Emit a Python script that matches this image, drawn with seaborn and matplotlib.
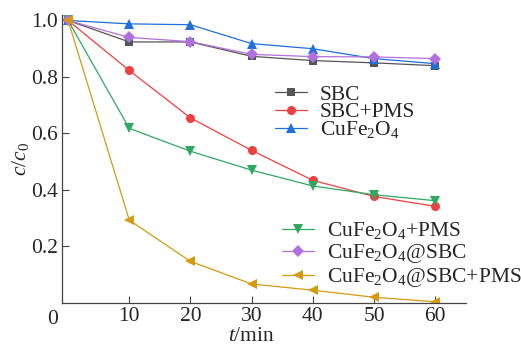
import matplotlib
matplotlib.use("Agg")
import matplotlib.pyplot as plt
import seaborn as sns
import pandas as pd

t = [0, 10, 20, 30, 40, 50, 60]
sbc = [1.0, 0.924, 0.924, 0.873, 0.858, 0.850, 0.840]
sbc_pms = [1.0, 0.823, 0.655, 0.540, 0.434, 0.377, 0.342]
cufe = [1.0, 0.988, 0.985, 0.918, 0.900, 0.865, 0.847]
cufe_pms = [1.0, 0.618, 0.537, 0.470, 0.414, 0.383, 0.362]
cufe_sbc = [1.0, 0.940, 0.925, 0.880, 0.872, 0.871, 0.865]
cufe_sbc_pms = [1.0, 0.293, 0.147, 0.067, 0.045, 0.020, 0.004]

labels = ["SBC", "SBC+PMS", r"CuFe$_2$O$_4$", r"CuFe$_2$O$_4$+PMS",
          r"CuFe$_2$O$_4$@SBC", r"CuFe$_2$O$_4$@SBC+PMS"]
series = [sbc, sbc_pms, cufe, cufe_pms, cufe_sbc, cufe_sbc_pms]
markers = ["s", "o", "^", "v", "D", "<"]
colors = ["#555555", "#ee4040", "#1f6fdc", "#2fa862", "#b070dd", "#d49a10"]
msizes = [6, 6.5, 7, 7, 6, 7]

sns.set_style("ticks")
plt.rcParams["font.family"] = ["Liberation Serif", "DejaVu Serif"]
plt.rcParams["mathtext.fontset"] = "custom"
plt.rcParams["mathtext.rm"] = "Liberation Serif"
plt.rcParams["mathtext.it"] = "Liberation Serif:italic"

FS = 15.5
fig = plt.figure(figsize=(5.21, 3.45), dpi=100)
ax = fig.add_axes([0.119, 0.122, 0.775, 0.835])

for lab, ys, m, c, ms in zip(labels, series, markers, colors, msizes):
    df = pd.DataFrame({"t": t, "c": ys})
    sns.lineplot(data=df, x="t", y="c", ax=ax, color=c, marker=m,
                 markersize=ms, markeredgewidth=0, linewidth=0.9,
                 label=lab, legend=False)

ax.set_xlim(-1, 65)
ax.set_ylim(0, 1.02)
ax.set_xticks([10, 20, 30, 40, 50, 60])
ax.set_yticks([0.2, 0.4, 0.6, 0.8, 1.0])
ax.set_yticklabels(["0.2", "0.4", "0.6", "0.8", "1.0"])
ax.tick_params(direction="in", length=5, width=0.8, labelsize=FS, color="#444444", pad=3)
for s in ["top", "right"]:
    ax.spines[s].set_visible(False)
for s in ["left", "bottom"]:
    ax.spines[s].set_color("#444444")
    ax.spines[s].set_linewidth(0.9)
ax.text(-0.01, -0.025, "0", transform=ax.transAxes, ha="right", va="top", fontsize=FS)

ax.set_xlabel(r"$t$/min", fontsize=FS)
ax.xaxis.set_label_coords(0.47, -0.085)
ax.set_ylabel(r"$c$/$c_0$", fontsize=FS, labelpad=0)

handles, labs = ax.get_legend_handles_labels()
leg1 = fig.legend(handles[:3], labs[:3], loc="upper left",
                  bbox_to_anchor=(0.527, 0.755), frameon=False, fontsize=FS,
                  handlelength=1.5, handletextpad=0.6, labelspacing=-0.12,
                  borderpad=0, borderaxespad=0)
leg2 = fig.legend(handles[3:], labs[3:], loc="upper left",
                  bbox_to_anchor=(0.541, 0.362), frameon=False, fontsize=FS,
                  handlelength=1.5, handletextpad=0.6, labelspacing=0.05,
                  borderpad=0, borderaxespad=0)

fig.savefig("out.png", dpi=100)
